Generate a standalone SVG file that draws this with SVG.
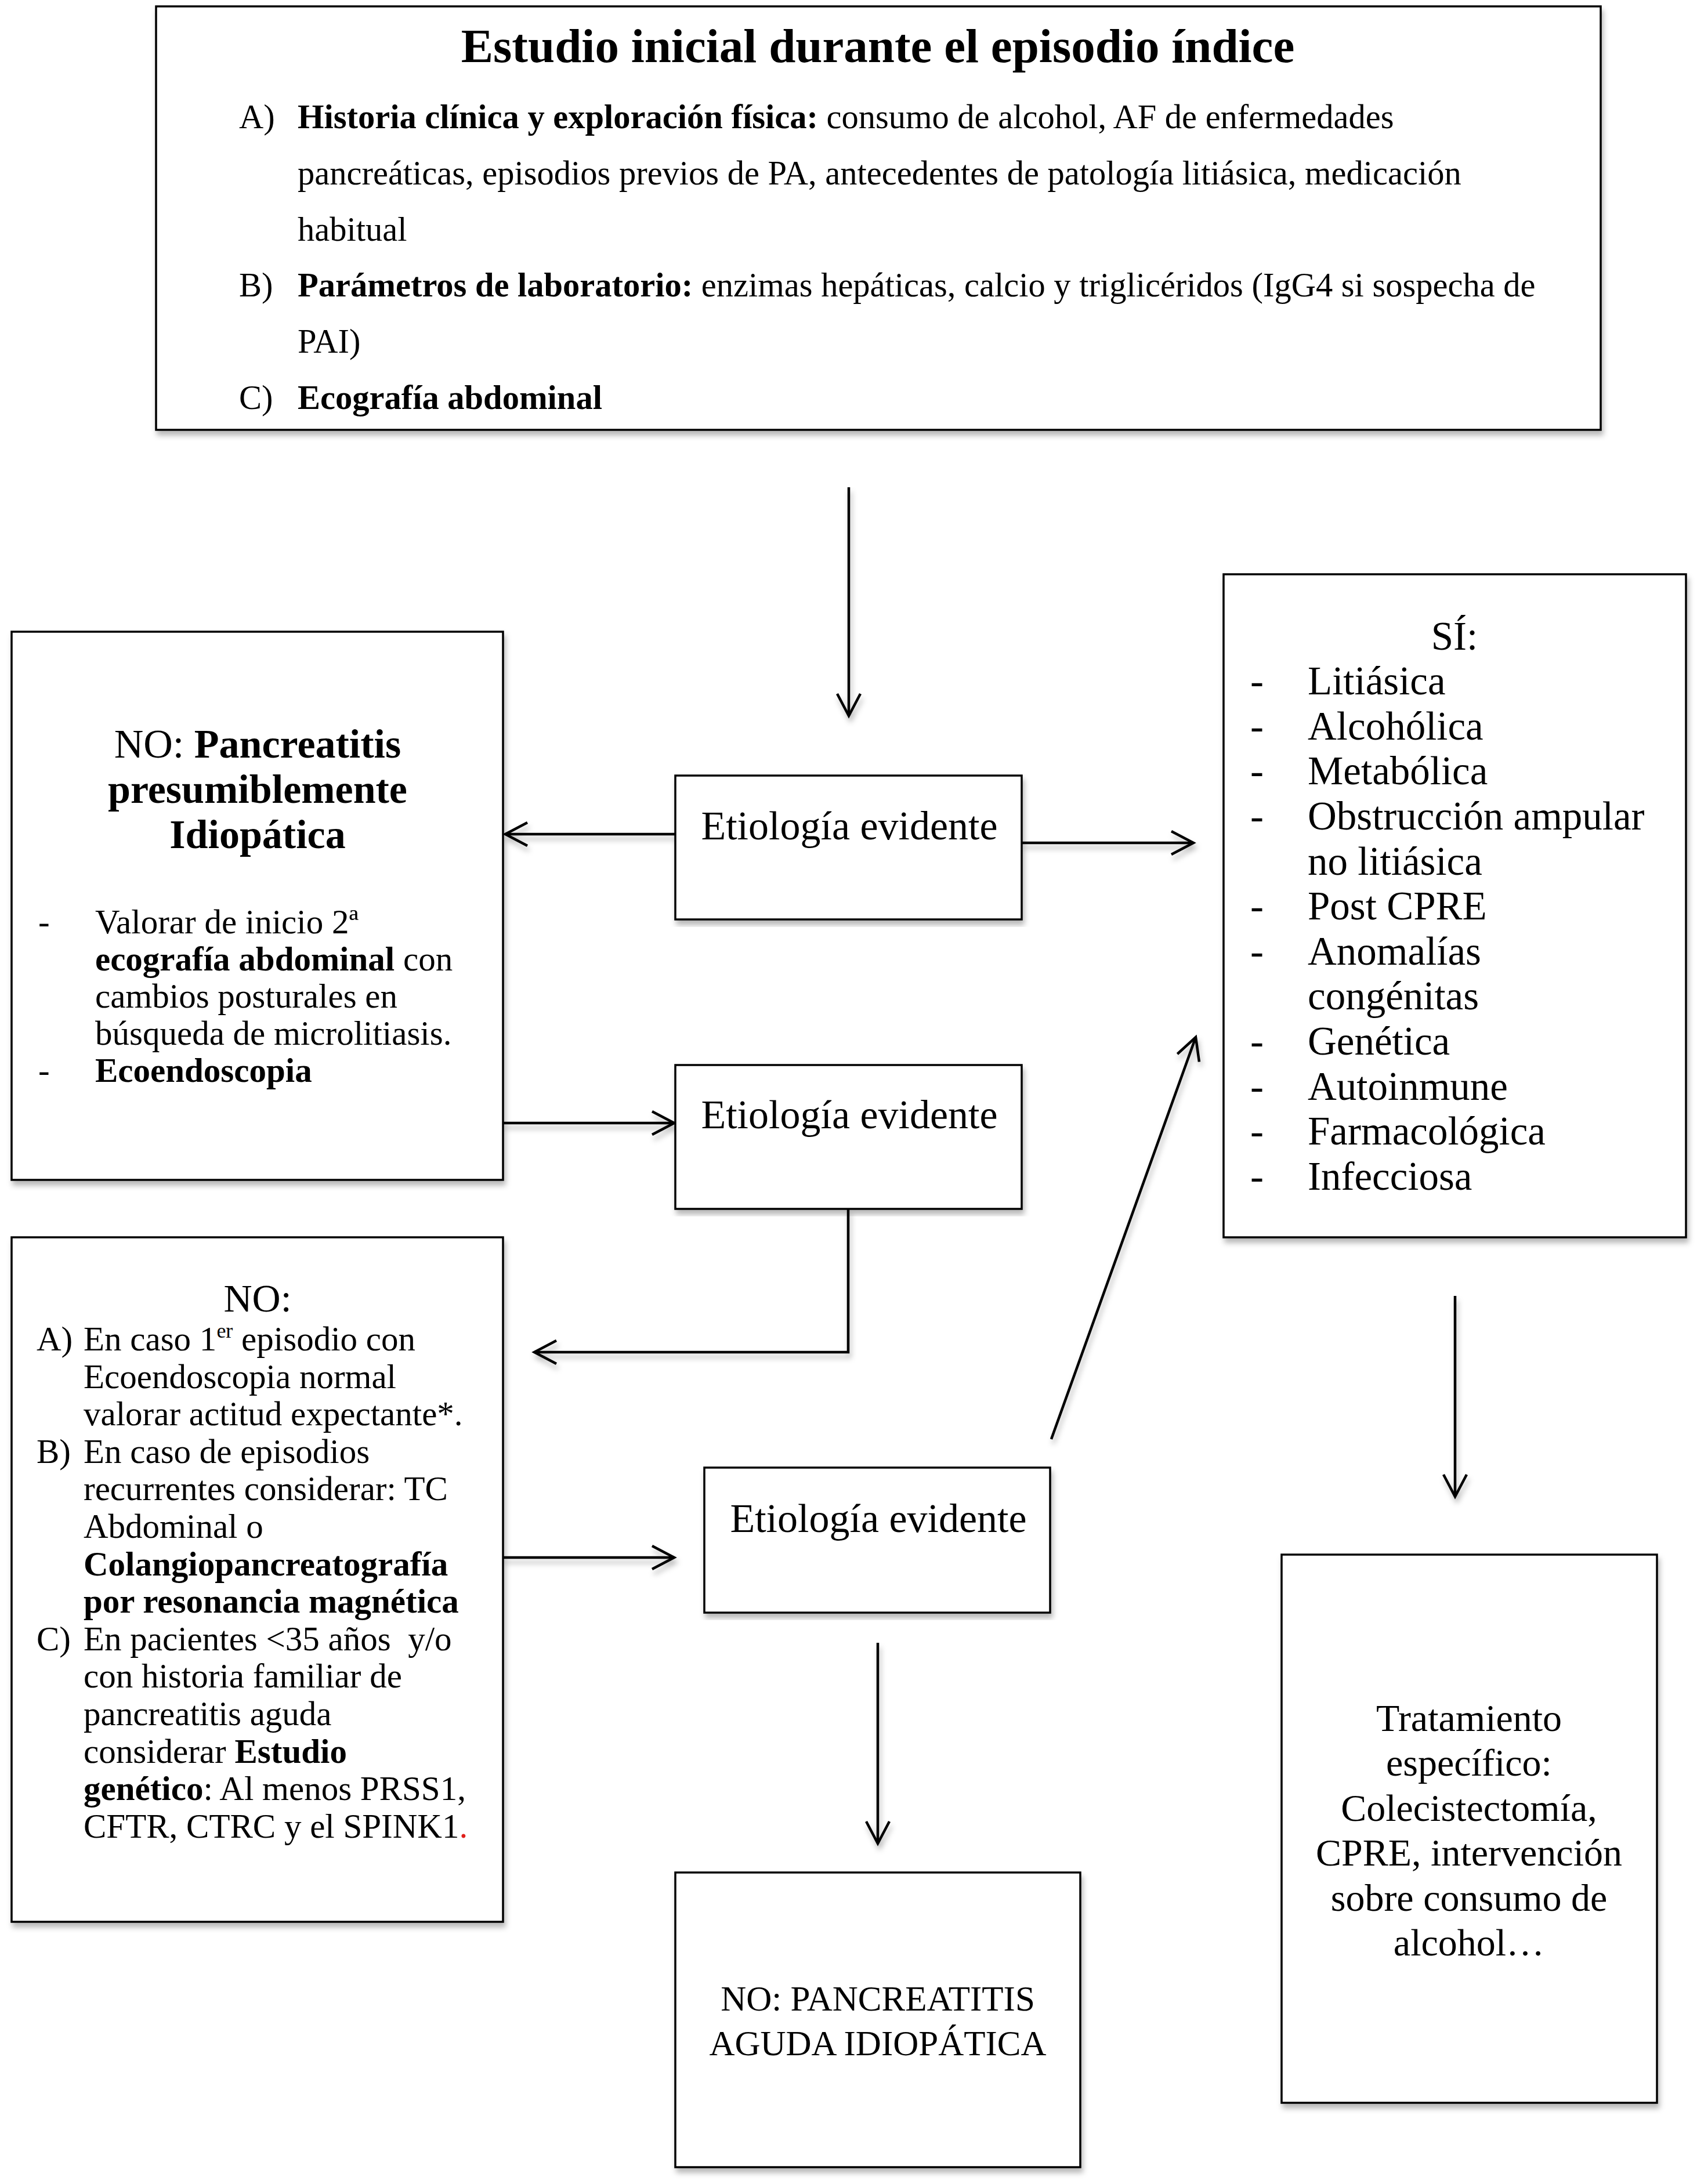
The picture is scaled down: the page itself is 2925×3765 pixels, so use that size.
<svg xmlns="http://www.w3.org/2000/svg" width="2925" height="3765" viewBox="0 0 2925 3765">
<style>
text{font-family:'Liberation Serif','Times New Roman',serif;fill:#000}
.box{fill:#fff;stroke:#000;stroke-width:3.5}
.b{font-weight:bold}
.conn{fill:none;stroke:#000;stroke-width:4.5}
.mid{text-anchor:middle}
</style>
<defs>
<filter id="sh" x="-5%" y="-5%" width="110%" height="110%">
<feDropShadow dx="3" dy="8" stdDeviation="5" flood-color="#000" flood-opacity="0.28"/>
</filter>
<marker id="arr" markerUnits="userSpaceOnUse" viewBox="-45 -25 50 50" refX="0" refY="0" markerWidth="50" markerHeight="50" orient="auto" overflow="visible">
<path d="M-38,-20 L0,0 L-38,20" fill="none" stroke="#000" stroke-width="4.5" stroke-linejoin="miter"/>
</marker>
</defs>
<rect width="2925" height="3765" fill="#fff"/>

<g id="connectors" filter="url(#sh)">
<line class="conn" x1="1463" y1="840" x2="1463" y2="1234" marker-end="url(#arr)"/>
<line class="conn" x1="1164" y1="1438" x2="871" y2="1438" marker-end="url(#arr)"/>
<line class="conn" x1="1761" y1="1453" x2="2057" y2="1453" marker-end="url(#arr)"/>
<line class="conn" x1="867" y1="1936" x2="1162" y2="1936" marker-end="url(#arr)"/>
<path class="conn" d="M1462,2084 V2331 H921" marker-end="url(#arr)"/>
<line class="conn" x1="867" y1="2685" x2="1162" y2="2685" marker-end="url(#arr)"/>
<line class="conn" x1="1812" y1="2481" x2="2061" y2="1788" marker-end="url(#arr)"/>
<line class="conn" x1="1513" y1="2832" x2="1513" y2="3178" marker-end="url(#arr)"/>
<line class="conn" x1="2508" y1="2234" x2="2508" y2="2580" marker-end="url(#arr)"/>
</g>

<g id="estudio-inicial">
<rect class="box" x="269" y="11" width="2490" height="730" filter="url(#sh)"/>
<text class="b mid" x="1513" y="107" font-size="83">Estudio inicial durante el episodio índice</text>
<text x="412" y="221" font-size="58.5">A)</text>
<text x="513" y="221" font-size="58.5"><tspan class="b">Historia clínica y exploración física:</tspan> consumo de alcohol, AF de enfermedades</text>
<text x="513" y="318" font-size="58.5">pancreáticas, episodios previos de PA, antecedentes de patología litiásica, medicación</text>
<text x="513" y="415" font-size="58.5">habitual</text>
<text x="412" y="511" font-size="58.5">B)</text>
<text x="513" y="511" font-size="58.5"><tspan class="b">Parámetros de laboratorio:</tspan> enzimas hepáticas, calcio y triglicéridos (IgG4 si sospecha de</text>
<text x="513" y="608" font-size="58.5">PAI)</text>
<text x="412" y="705" font-size="58.5">C)</text>
<text class="b" x="513" y="705" font-size="58.5">Ecografía abdominal</text>
</g>

<g id="no-presumiblemente-idiopatica">
<rect class="box" x="20" y="1089" width="847" height="945" filter="url(#sh)"/>
<text class="mid" x="444" y="1306" font-size="70">NO: <tspan class="b">Pancreatitis</tspan></text>
<text class="mid b" x="444" y="1384" font-size="70">presumiblemente</text>
<text class="mid b" x="444" y="1462" font-size="70">Idiopática</text>
<text x="66" y="1609" font-size="59">-</text>
<text x="164" y="1609" font-size="59">Valorar de inicio 2ª</text>
<text x="164" y="1673" font-size="59"><tspan class="b">ecografía abdominal</tspan> con</text>
<text x="164" y="1737" font-size="59">cambios posturales en</text>
<text x="164" y="1801" font-size="59">búsqueda de microlitiasis.</text>
<text x="66" y="1865" font-size="59">-</text>
<text class="b" x="164" y="1865" font-size="59">Ecoendoscopia</text>
</g>

<g id="etiologia-1">
<rect class="box" x="1164" y="1337" width="597" height="248" filter="url(#sh)"/>
<text class="mid" x="1464" y="1447" font-size="70">Etiología evidente</text>
</g>

<g id="etiologia-2">
<rect class="box" x="1164" y="1836" width="597" height="248" filter="url(#sh)"/>
<text class="mid" x="1464" y="1945" font-size="70">Etiología evidente</text>
</g>

<g id="si-etiologias">
<rect class="box" x="2109" y="990" width="797" height="1143" filter="url(#sh)"/>
<text class="mid" x="2507" y="1120" font-size="69">SÍ:</text>
<g font-size="69">
<text x="2155" y="1197">-</text><text x="2254" y="1197">Litiásica</text>
<text x="2155" y="1275">-</text><text x="2254" y="1275">Alcohólica</text>
<text x="2155" y="1352">-</text><text x="2254" y="1352">Metabólica</text>
<text x="2155" y="1430">-</text><text x="2254" y="1430">Obstrucción ampular</text>
<text x="2254" y="1508">no litiásica</text>
<text x="2155" y="1585">-</text><text x="2254" y="1585">Post CPRE</text>
<text x="2155" y="1663">-</text><text x="2254" y="1663">Anomalías</text>
<text x="2254" y="1740">congénitas</text>
<text x="2155" y="1818">-</text><text x="2254" y="1818">Genética</text>
<text x="2155" y="1896">-</text><text x="2254" y="1896">Autoinmune</text>
<text x="2155" y="1973">-</text><text x="2254" y="1973">Farmacológica</text>
<text x="2155" y="2051">-</text><text x="2254" y="2051">Infecciosa</text>
</g>
</g>

<g id="no-estudio-ampliado">
<rect class="box" x="20" y="2133" width="847" height="1180" filter="url(#sh)"/>
<text class="mid" x="444" y="2261" font-size="68">NO:</text>
<g font-size="59">
<text x="63" y="2328">A)</text>
<text x="144" y="2328">En caso 1<tspan font-size="36" dy="-22">er</tspan><tspan dy="22"> episodio con</tspan></text>
<text x="144" y="2393">Ecoendoscopia normal</text>
<text x="144" y="2457">valorar actitud expectante*.</text>
<text x="63" y="2522">B)</text>
<text x="144" y="2522">En caso de episodios</text>
<text x="144" y="2586">recurrentes considerar: TC</text>
<text x="144" y="2651">Abdominal o</text>
<text class="b" x="144" y="2716">Colangiopancreatografía</text>
<text class="b" x="144" y="2780">por resonancia magnética</text>
<text x="63" y="2845">C)</text>
<text x="144" y="2845">En pacientes &lt;35 años &#160;y/o</text>
<text x="144" y="2909">con historia familiar de</text>
<text x="144" y="2974">pancreatitis aguda</text>
<text x="144" y="3039">considerar <tspan class="b">Estudio</tspan></text>
<text x="144" y="3103"><tspan class="b">genético</tspan>: Al menos PRSS1,</text>
<text x="144" y="3168">CFTR, CTRC y el SPINK1<tspan fill="#e0201b">.</tspan></text>
</g>
</g>

<g id="etiologia-3">
<rect class="box" x="1214" y="2530" width="596" height="250" filter="url(#sh)"/>
<text class="mid" x="1514" y="2641" font-size="70">Etiología evidente</text>
</g>

<g id="no-pancreatitis-idiopatica">
<rect class="box" x="1164" y="3228" width="698" height="508" filter="url(#sh)"/>
<text class="mid" x="1513" y="3466" font-size="61">NO: PANCREATITIS</text>
<text class="mid" x="1513" y="3543" font-size="61">AGUDA IDIOPÁTICA</text>
</g>

<g id="tratamiento-especifico">
<rect class="box" x="2209" y="2680" width="647" height="945" filter="url(#sh)"/>
<g font-size="66" class="mid">
<text class="mid" x="2532" y="2984">Tratamiento</text>
<text class="mid" x="2532" y="3061">específico:</text>
<text class="mid" x="2532" y="3139">Colecistectomía,</text>
<text class="mid" x="2532" y="3216">CPRE, intervención</text>
<text class="mid" x="2532" y="3294">sobre consumo de</text>
<text class="mid" x="2532" y="3371">alcohol…</text>
</g>
</g>
</svg>
